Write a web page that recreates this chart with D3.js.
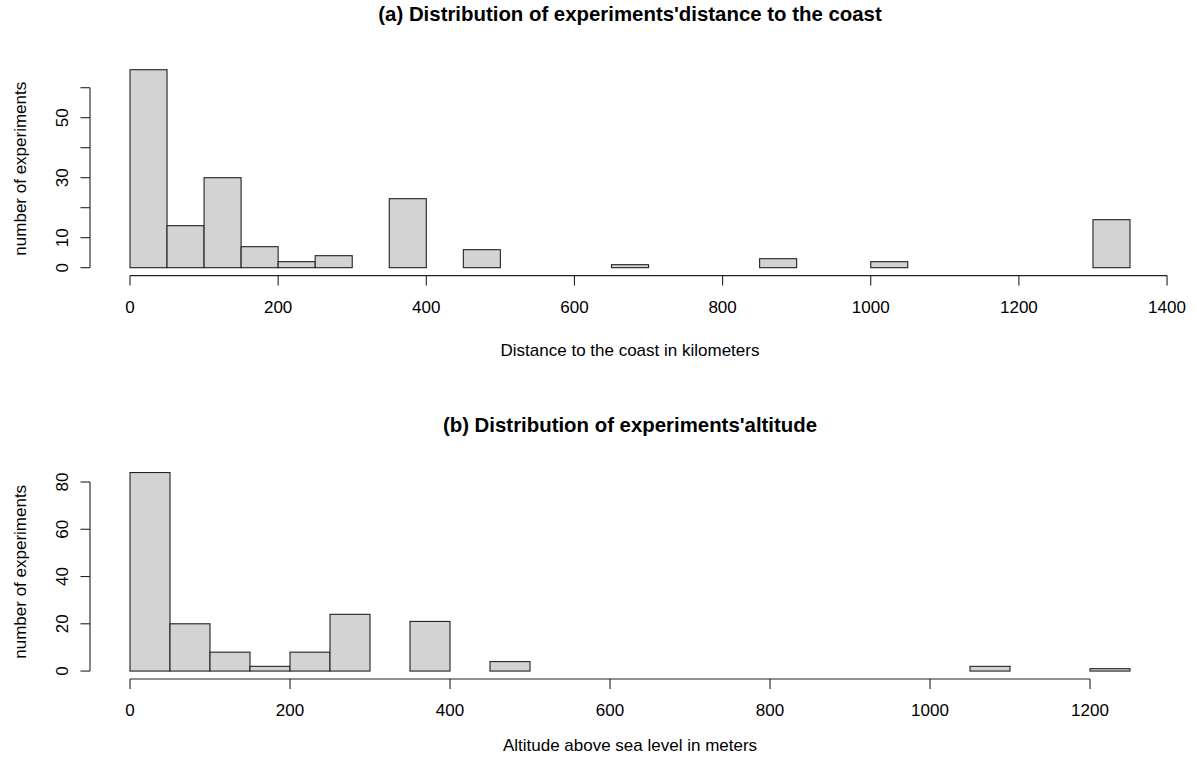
<!DOCTYPE html>
<html>
<head>
<meta charset="utf-8">
<script src="https://cdn.jsdelivr.net/npm/d3@7"></script>
<style>
  html, body { margin: 0; padding: 0; background: #ffffff; }
  svg { display: block; }
  text { font-family: "Liberation Sans", Arial, sans-serif; fill: #000; }
</style>
</head>
<body>
<svg id="chart" width="1197" height="760"></svg>
<script>
// ---- Data ----
const distBinWidth = 50;
const distBreaksStart = 0;
const distCounts = [66, 14, 30, 7, 2, 4, 0, 23, 0, 6, 0, 0, 0, 1, 0, 0, 0, 3, 0, 0, 2, 0, 0, 0, 0, 0, 16];
const distXTicks = [0, 200, 400, 600, 800, 1000, 1200, 1400];
const distYTicks = [0, 10, 20, 30, 40, 50, 60];
const distYLabels = [0, 10, 30, 50];

const altBinWidth = 50;
const altBreaksStart = 0;
const altCounts = [84, 20, 8, 2, 8, 24, 0, 21, 0, 4, 0, 0, 0, 0, 0, 0, 0, 0, 0, 0, 0, 2, 0, 0, 1];
const altXTicks = [0, 200, 400, 600, 800, 1000, 1200];
const altYTicks = [0, 20, 40, 60, 80];
const altYLabels = [0, 20, 40, 60, 80];

const titles = ["(a) Distribution of experiments'distance to the coast", "(b) Distribution of experiments'altitude"];
const xTitles = ["Distance to the coast in kilometers", "Altitude above sea level in meters"];
const yTitle = "number of experiments";

// ---- Drawing ----
const svg = d3.select("#chart");
const plotLeft = 90, plotRight = 1170;

function panel(cfg) {
  const bins = cfg.counts.map((c, i) => ({
    x0: cfg.start + i * cfg.bw,
    x1: cfg.start + (i + 1) * cfg.bw,
    n: c
  }));
  const xmin = bins[0].x0, xmax = bins[bins.length - 1].x1;
  const ymax = d3.max(cfg.counts);
  const xpad = (xmax - xmin) * 0.04, ypad = ymax * 0.04;
  const x = d3.scaleLinear().domain([xmin - xpad, xmax + xpad]).range([plotLeft, plotRight]);
  const y = d3.scaleLinear().domain([-ypad, ymax + ypad]).range([cfg.bottom, cfg.top]);
  const g = svg.append("g");

  // bars
  g.selectAll("rect.bar").data(bins).join("rect")
    .attr("class", "bar")
    .attr("x", d => x(d.x0))
    .attr("y", d => y(d.n))
    .attr("width", d => x(d.x1) - x(d.x0))
    .attr("height", d => y(0) - y(d.n))
    .attr("fill", "#d3d3d3")
    .attr("stroke", "#222")
    .attr("stroke-width", 1.1);

  // x axis
  const xa = g.append("g").attr("transform", `translate(0,${cfg.bottom})`);
  const xt = cfg.xTicks;
  xa.append("line").attr("x1", x(xt[0])).attr("x2", x(xt[xt.length - 1]))
    .attr("stroke", "#222").attr("stroke-width", 1.1);
  xa.selectAll("line.t").data(xt).join("line").attr("class", "t")
    .attr("x1", d => x(d)).attr("x2", d => x(d)).attr("y1", 0).attr("y2", 10)
    .attr("stroke", "#222").attr("stroke-width", 1.1);
  xa.selectAll("text").data(xt).join("text")
    .attr("x", d => x(d)).attr("y", 37).attr("text-anchor", "middle")
    .attr("font-size", 17).text(d => d);

  // y axis
  const ya = g.append("g").attr("transform", `translate(${plotLeft},0)`);
  const yt = cfg.yTicks;
  ya.append("line").attr("y1", y(yt[0])).attr("y2", y(yt[yt.length - 1]))
    .attr("stroke", "#222").attr("stroke-width", 1.1);
  ya.selectAll("line.t").data(yt).join("line").attr("class", "t")
    .attr("y1", d => y(d)).attr("y2", d => y(d)).attr("x1", 0).attr("x2", -9.5)
    .attr("stroke", "#222").attr("stroke-width", 1.1);
  ya.selectAll("text").data(cfg.yLabels).join("text")
    .attr("transform", d => `translate(-22,${y(d)}) rotate(-90)`)
    .attr("text-anchor", "middle").attr("font-size", 17).text(d => d);

  // titles
  g.append("text").attr("x", (plotLeft + plotRight) / 2).attr("y", cfg.titleY)
    .attr("text-anchor", "middle").attr("font-size", 20.4).attr("font-weight", "bold").text(cfg.title);
  g.append("text").attr("x", (plotLeft + plotRight) / 2).attr("y", cfg.xTitleY)
    .attr("text-anchor", "middle").attr("font-size", 17).text(cfg.xTitle);
  g.append("text").attr("transform", `translate(26,${(cfg.top + cfg.bottom) / 2}) rotate(-90)`)
    .attr("text-anchor", "middle").attr("font-size", 17).text(yTitle);
}

panel({ counts: distCounts, start: distBreaksStart, bw: distBinWidth, xTicks: distXTicks, yTicks: distYTicks,
        yLabels: distYLabels, top: 61.8, bottom: 275.6, title: titles[0], titleY: 21, xTitle: xTitles[0], xTitleY: 356 });
panel({ counts: altCounts, start: altBreaksStart, bw: altBinWidth, xTicks: altXTicks, yTicks: altYTicks,
        yLabels: altYLabels, top: 464.6, bottom: 679, title: titles[1], titleY: 432, xTitle: xTitles[1], xTitleY: 751 });
</script>
</body>
</html>
